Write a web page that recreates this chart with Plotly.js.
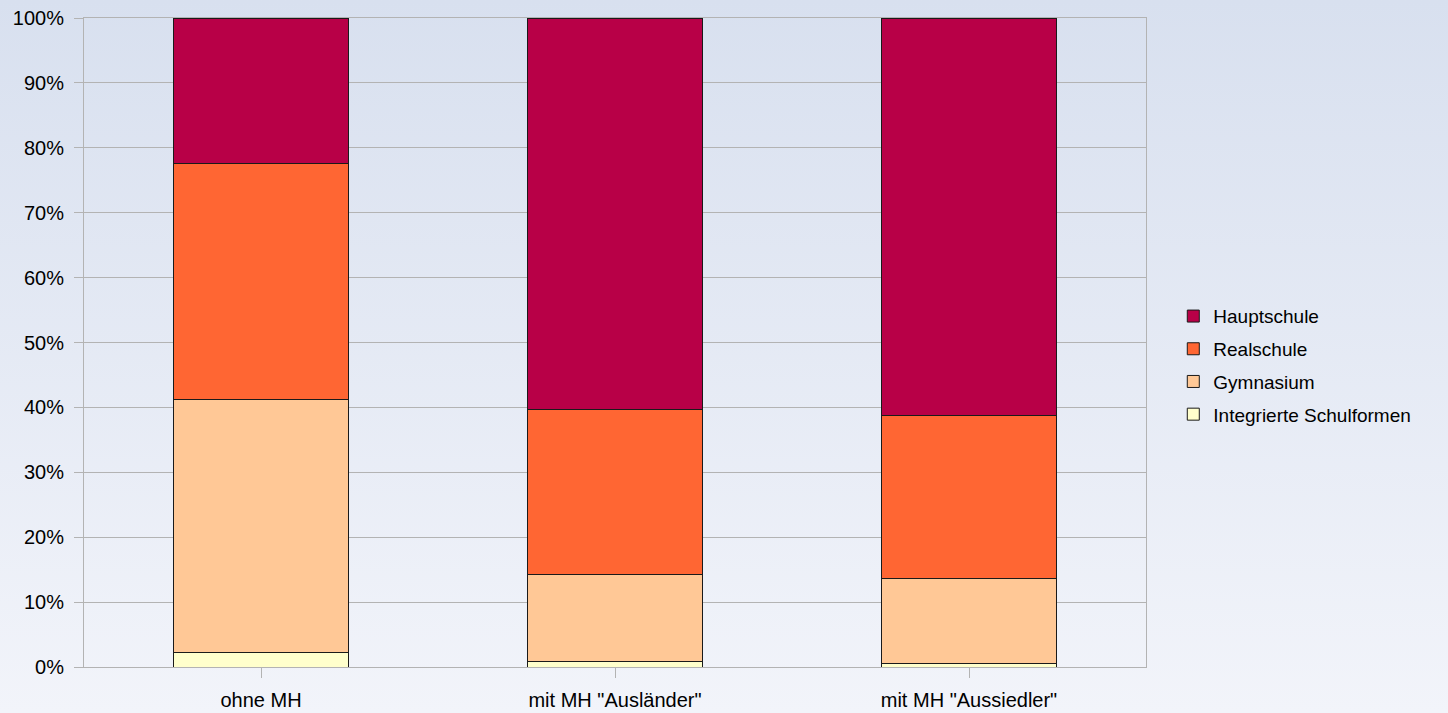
<!DOCTYPE html>
<html>
<head>
<meta charset="utf-8">
<script src="https://cdn.plot.ly/plotly-3.0.1.min.js"></script>
<style>
  html, body { margin: 0; padding: 0; }
  body { width: 1448px; height: 713px; background: linear-gradient(to bottom, #d8e0ef 0%, #f2f4fa 100%); }
  #chart { width: 1448px; height: 713px; }
</style>
</head>
<body>
<div id="chart"></div>
<script>
const categories = ['ohne MH', 'mit MH "Ausländer"', 'mit MH "Aussiedler"'];
const integrierte = [2.3, 0.85, 0.55];
const gymnasium = [38.9, 13.45, 13.05];
const realschule = [36.4, 25.4, 25.2];
const hauptschule = [22.4, 60.3, 61.2];
const seriesNames = ['Integrierte Schulformen', 'Gymnasium', 'Realschule', 'Hauptschule'];
const seriesColors = ['#ffffcc', '#ffc896', '#ff6633', '#b80047'];
const seriesValues = [integrierte, gymnasium, realschule, hauptschule];
const yTicks = [0, 10, 20, 30, 40, 50, 60, 70, 80, 90, 100];

const traces = seriesValues.map((vals, i) => ({
  type: 'bar',
  name: seriesNames[i],
  x: categories,
  y: vals,
  legendgroup: 'g' + i,
  legendrank: 1000 - i,
  marker: { color: seriesColors[i], line: { color: '#1a1a1a', width: 1 } },
  hoverinfo: 'none'
}));

const layout = {
  width: 1448,
  height: 713,
  barmode: 'stack',
  bargap: 0.505,
  paper_bgcolor: 'rgba(0,0,0,0)',
  plot_bgcolor: 'rgba(0,0,0,0)',
  font: { family: 'Liberation Sans, Arial, sans-serif', size: 20, color: '#000' },
  margin: { l: 84, r: 302, t: 18, b: 46, pad: 0 },
  showlegend: true,
  legend: {
    x: 1.0257, xanchor: 'left',
    y: 0.465, yanchor: 'middle',
    traceorder: 'grouped',
    tracegroupgap: 5,
    font: { size: 19 },
    bgcolor: 'rgba(0,0,0,0)'
  },
  xaxis: {
    type: 'category',
    showgrid: false,
    showline: true,
    linecolor: '#b3b3b3',
    linewidth: 1,
    mirror: true,
    ticks: 'outside',
    ticklen: 10,
    tickcolor: '#b3b3b3',
    ticklabelstandoff: 5,
    tickfont: { size: 20 }
  },
  yaxis: {
    range: [0, 100],
    tickvals: yTicks,
    ticktext: yTicks.map(v => v + '%'),
    showgrid: true,
    gridcolor: '#b3b3b3',
    gridwidth: 1,
    zeroline: false,
    showline: true,
    linecolor: '#b3b3b3',
    linewidth: 1,
    mirror: true,
    ticks: 'outside',
    ticklen: 9,
    tickcolor: '#b3b3b3',
    ticklabelstandoff: 6,
    tickfont: { size: 20 }
  }
};

Plotly.newPlot('chart', traces, layout, { displayModeBar: false, staticPlot: true });
</script>
</body>
</html>
